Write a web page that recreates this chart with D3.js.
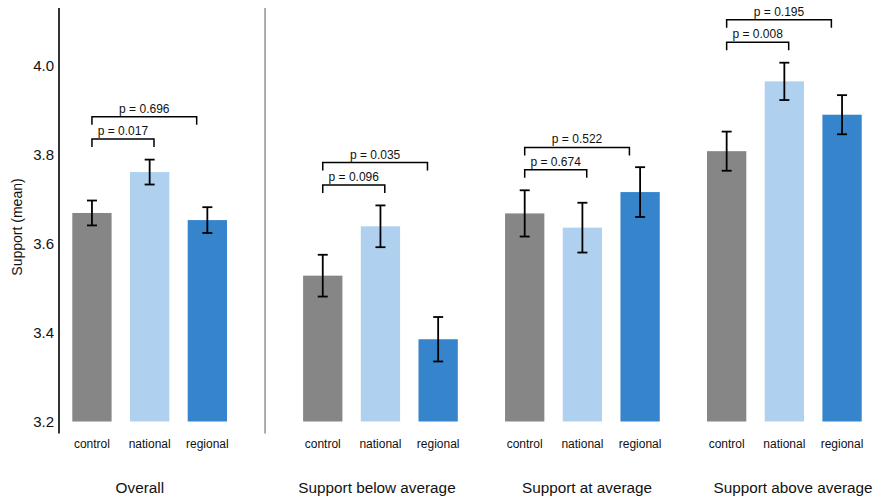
<!DOCTYPE html>
<html>
<head>
<meta charset="utf-8">
<script src="https://cdn.jsdelivr.net/npm/d3@7"></script>
<style>
  html, body { margin: 0; padding: 0; background: #fff; }
  svg { display: block; font-family: "Liberation Sans", Arial, Helvetica, sans-serif; }
</style>
</head>
<body>
<svg id="chart" width="876" height="501"></svg>
<script>
// Mean support by treatment condition, overall and split by prior support level
const groups = ["Overall", "Support below average", "Support at average", "Support above average"];
const conditions = ["control", "national", "regional"];

const overallMeans = [3.669, 3.761, 3.653];
const belowMeans   = [3.528, 3.639, 3.385];
const atMeans      = [3.668, 3.636, 3.716];
const aboveMeans   = [3.808, 3.965, 3.890];

// half-width of the error bars
const overallErr = [0.028, 0.028, 0.029];
const belowErr   = [0.047, 0.047, 0.050];
const atErr      = [0.052, 0.056, 0.056];
const aboveErr   = [0.044, 0.042, 0.044];

// p-values of each treatment against control
const pNational = ["0.017", "0.096", "0.674", "0.008"];
const pRegional = ["0.696", "0.035", "0.522", "0.195"];

const yTicks = [3.2, 3.4, 3.6, 3.8, 4.0];

const means = [overallMeans, belowMeans, atMeans, aboveMeans];
const errs = [overallErr, belowErr, atErr, aboveErr];

// ---- layout ----
const colors = ["#868686", "#afd1ef", "#3584cc"];
const groupStartSlot = [0, 4, 7.5, 11];   // bar slots; extra gap after "Overall"
const titleShift = [-0.17, -0.06, 0.08, 0.15]; // title centre offsets, in slots
const barWidth = 39.3;

const svg = d3.select("#chart");

const x = d3.scaleLinear().domain([0, 1]).range([91.95, 91.95 + 57.7]);
const y = d3.scaleLinear().domain([3.2, 4.13]).range([421.5, 8]);

const axisTop = y(4.13), axisBottom = 433.5;

// y axis line + labels
svg.append("line")
  .attr("x1", 59).attr("x2", 59)
  .attr("y1", axisTop).attr("y2", axisBottom)
  .attr("stroke", "#000").attr("stroke-width", 1.6);

const yAxis = d3.axisLeft(y).tickValues(yTicks).tickFormat(d3.format(".1f")).tickSize(0).tickPadding(5);
const gy = svg.append("g").attr("transform", "translate(59,0)").call(yAxis);
gy.select(".domain").remove();
gy.selectAll("text")
  .attr("font-size", 15).attr("fill", "#111")
  .attr("font-family", "'Liberation Sans', Arial, sans-serif");

svg.append("text")
  .attr("transform", "translate(22,227) rotate(-90)")
  .attr("text-anchor", "middle")
  .attr("font-size", 14).attr("fill", "#111")
  .text("Support (mean)");

// separator between the overall panel and the subgroups
svg.append("line")
  .attr("x1", x(3)).attr("x2", x(3))
  .attr("y1", axisTop).attr("y2", axisBottom)
  .attr("stroke", "#999").attr("stroke-width", 1.6);

groups.forEach((gName, gi) => {
  const s0 = groupStartSlot[gi];
  const g = svg.append("g");

  const rows = conditions.map((c, i) => ({
    cond: c, i, slot: s0 + i, mean: means[gi][i], err: errs[gi][i]
  }));

  // bars
  g.selectAll("rect").data(rows).enter().append("rect")
    .attr("x", d => x(d.slot) - barWidth / 2)
    .attr("width", barWidth)
    .attr("y", d => y(d.mean))
    .attr("height", d => y(3.2) - y(d.mean))
    .attr("fill", d => colors[d.i]);

  // error bars
  const eb = g.selectAll(".eb").data(rows).enter().append("g").attr("class", "eb")
    .attr("stroke", "#000").attr("stroke-width", 1.8);
  eb.append("line")
    .attr("x1", d => x(d.slot)).attr("x2", d => x(d.slot))
    .attr("y1", d => y(d.mean + d.err)).attr("y2", d => y(d.mean - d.err));
  eb.append("line")
    .attr("x1", d => x(d.slot) - 5).attr("x2", d => x(d.slot) + 5)
    .attr("y1", d => y(d.mean + d.err)).attr("y2", d => y(d.mean + d.err));
  eb.append("line")
    .attr("x1", d => x(d.slot) - 5).attr("x2", d => x(d.slot) + 5)
    .attr("y1", d => y(d.mean - d.err)).attr("y2", d => y(d.mean - d.err));

  // category labels
  g.selectAll(".cat").data(rows).enter().append("text")
    .attr("x", d => x(d.slot)).attr("y", 448)
    .attr("text-anchor", "middle")
    .attr("font-size", 12).attr("fill", "#111")
    .text(d => d.cond);

  // group title
  g.append("text")
    .attr("x", x(s0 + 1 + titleShift[gi])).attr("y", 493)
    .attr("text-anchor", "middle")
    .attr("font-size", 15.3).attr("fill", "#111")
    .text(gName);

  // significance brackets
  const topPair = Math.min(y(rows[0].mean + rows[0].err), y(rows[1].mean + rows[1].err));
  const yLow = topPair - 20.5;
  const yHigh = yLow - 22.4;
  const brackets = [
    { level: yLow,  x1: x(s0), x2: x(s0 + 1.075), p: pNational[gi] },
    { level: yHigh, x1: x(s0), x2: x(s0 + 1.815), p: pRegional[gi] }
  ];
  brackets.forEach(b => {
    g.append("path")
      .attr("d", `M${b.x1},${b.level + 8}V${b.level}H${b.x2}V${b.level + 8}`)
      .attr("fill", "none").attr("stroke", "#000").attr("stroke-width", 1.5);
    g.append("text")
      .attr("x", (b.x1 + b.x2) / 2).attr("y", b.level - 4)
      .attr("text-anchor", "middle")
      .attr("font-size", 12).attr("fill", "#111")
      .text("p = " + b.p);
  });
});
</script>
</body>
</html>
